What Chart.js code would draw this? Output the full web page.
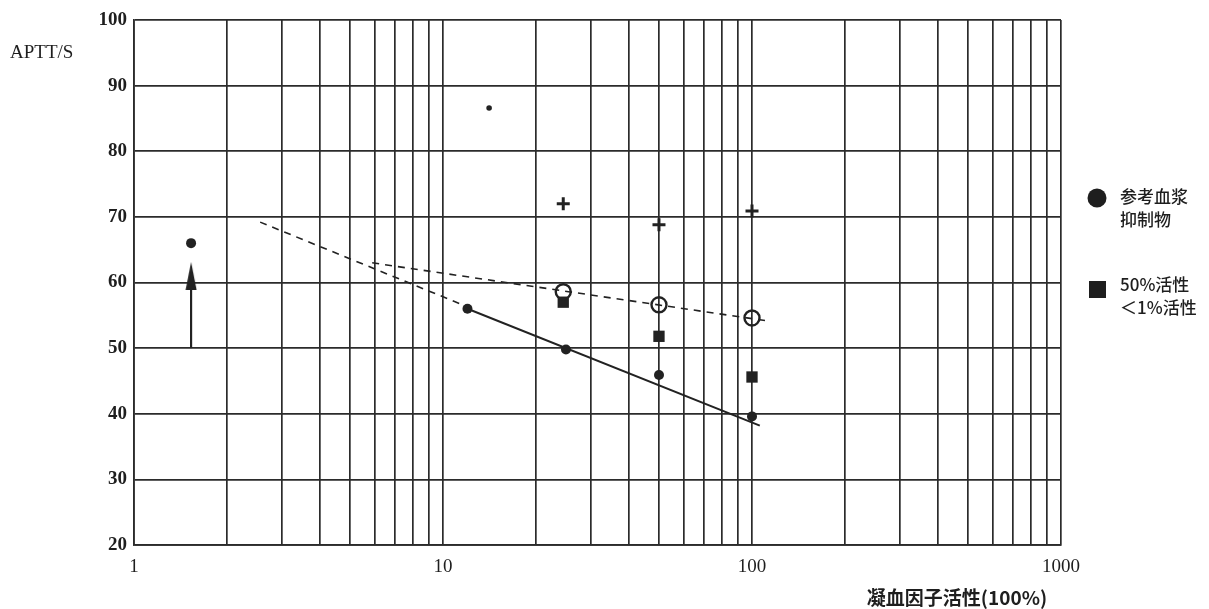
<!DOCTYPE html>
<html>
<head>
<meta charset="utf-8">
<script src="https://cdn.jsdelivr.net/npm/chart.js@4.4.0/dist/chart.umd.min.js"></script>
<style>
html, body { margin: 0; padding: 0; background: #fff; }
</style>
</head>
<body>
<canvas id="myChart" width="1209" height="609"></canvas>
<script>
// values
const refPlasma = [{x:12,y:56},{x:25,y:49.8},{x:50,y:45.9},{x:100,y:39.6}]
const extraDots = [{x:1.53,y:66}]
const smallDot = [{x:14.1,y:86.6}]
const openCircles = [{x:24.5,y:58.6},{x:50,y:56.6},{x:100,y:54.6}]
const squares = [{x:24.5,y:57},{x:50,y:51.8},{x:100,y:45.6}]
const crosses = [{x:24.5,y:72},{x:50,y:68.8},{x:100,y:70.9}]
const solidFit = [{x:12,y:56},{x:106,y:38.2}]
const steepDash = [{x:2.56,y:69.2},{x:12,y:56.3}]
const flatDash = [{x:5.9,y:63},{x:114,y:54.1}]
const arrowStem = [{x:1.53,y:50},{x:1.53,y:59}]
const arrowHead = [{x:1.53,y:61}]

const xLabels = [1, 10, 100, 1000]
const yLabels = [20, 30, 40, 50, 60, 70, 80, 90, 100]
const legendItems = [
    {shape:'circle', lines:['参考血浆','抑制物']},
    {shape:'square', lines:['50%活性','＜1%活性']}
]
const yTitle = 'APTT/S'
const xTitle = '凝血因子活性(100%)'

// grid positions for log paper: 1..9 in every decade
const xGrid = []
for (let d = 1; d < 1000; d *= 10) {
    for (let k = 1; k < 10; k++) xGrid.push(k * d)
}
xGrid.push(1000)

const ink = '#222'

// narrow arrow head marker
const headImg = document.createElement('canvas')
headImg.width = 12
headImg.height = 28
{
    const c = headImg.getContext('2d')
    c.fillStyle = ink
    c.beginPath()
    c.moveTo(6, 0)
    c.lineTo(11.5, 28)
    c.lineTo(0.5, 28)
    c.closePath()
    c.fill()
}

const lineSet = (data, dash, w) => ({
    data, showLine: true, borderColor: ink, borderWidth: w,
    borderDash: dash, pointRadius: 0, pointHoverRadius: 0
})
const pointSet = (data, style, r, fill, bw) => ({
    data, showLine: false, pointStyle: style, pointRadius: r, pointHoverRadius: r,
    backgroundColor: fill, borderColor: ink, pointBorderWidth: bw
})

const textPlugin = {
    id: 'texts',
    afterDraw(chart) {
        const c = chart.ctx
        c.save()
        c.fillStyle = '#1e1e1e'
        c.textBaseline = 'middle'
        c.font = '19px "Liberation Serif"'
        c.fillText(yTitle, 10, 53)
        c.font = 'bold 19px "Noto Sans CJK SC"'
        c.textAlign = 'center'
        c.fillText(xTitle, 957, 598)
        c.textAlign = 'left'
        c.font = '500 17px "Noto Sans CJK SC"'
        const tops = [197, 285]
        legendItems.forEach((item, i) => {
            const y0 = tops[i]
            if (item.shape === 'circle') {
                c.beginPath()
                c.arc(1097, y0 + 1, 9.5, 0, Math.PI * 2)
                c.fill()
            } else {
                c.fillRect(1089, y0 - 4, 17, 17)
            }
            item.lines.forEach((t, j) => c.fillText(t, 1120, y0 + j * 23))
        })
        c.restore()
    }
}

new Chart(document.getElementById('myChart'), {
    type: 'scatter',
    data: {
        datasets: [
            lineSet(solidFit, [], 2),
            lineSet(steepDash, [7, 6], 1.6),
            lineSet(flatDash, [7, 6], 1.6),
            lineSet(arrowStem, [], 2.2),
            pointSet(arrowHead, headImg, 10, ink, 0),
            pointSet(refPlasma, 'circle', 5, ink, 0),
            pointSet(extraDots, 'circle', 5, ink, 0),
            pointSet(smallDot, 'circle', 2.8, ink, 0),
            pointSet(openCircles, 'circle', 7.5, 'rgba(0,0,0,0)', 2.4),
            pointSet(squares, 'rect', 8, ink, 0),
            pointSet(crosses, 'cross', 6.5, ink, 3)
        ]
    },
    options: {
        responsive: false,
        animation: false,
        layout: { padding: { top: 20, right: 148, left: 0, bottom: 0 } },
        plugins: { legend: { display: false }, tooltip: { enabled: false } },
        scales: {
            x: {
                type: 'logarithmic',
                min: 1,
                max: 1000,
                afterBuildTicks(scale) { scale.ticks = xGrid.map(v => ({value: v})) },
                afterFit(scale) { scale.height = 64 },
                grid: { color: '#2b2b2b', lineWidth: 1.7, drawTicks: false },
                border: { color: '#2b2b2b', width: 1.7 },
                ticks: {
                    autoSkip: false,
                    maxRotation: 0,
                    padding: 11,
                    color: '#1e1e1e',
                    font: { family: 'Liberation Serif', size: 19 },
                    callback: v => xLabels.includes(v) ? String(v) : ''
                }
            },
            y: {
                min: 20,
                max: 100,
                afterBuildTicks(scale) { scale.ticks = yLabels.map(v => ({value: v})) },
                afterFit(scale) { scale.width = 134 },
                grid: { color: '#2b2b2b', lineWidth: 1.7, drawTicks: false },
                border: { color: '#2b2b2b', width: 1.7 },
                ticks: {
                    padding: 7,
                    color: '#1e1e1e',
                    font: { family: 'Liberation Serif', size: 19, weight: 'bold' }
                }
            }
        }
    },
    plugins: [textPlugin]
})
</script>
</body>
</html>
